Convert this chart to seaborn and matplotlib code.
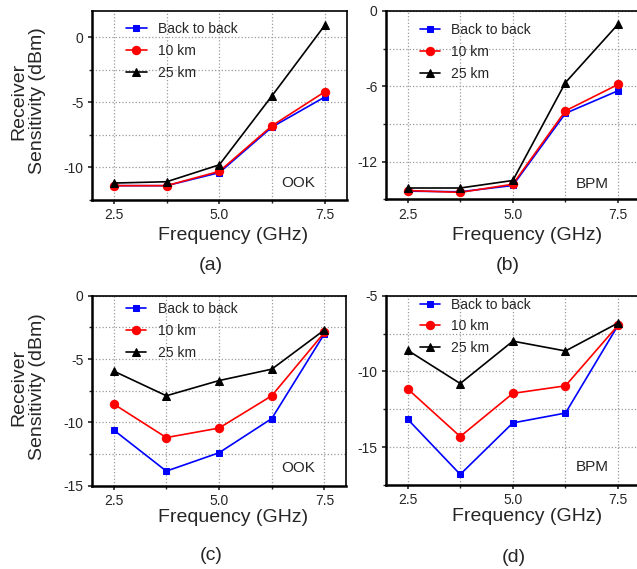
import numpy as np
import pandas as pd
import matplotlib
matplotlib.use("Agg")
import matplotlib.pyplot as plt
from matplotlib.ticker import MultipleLocator
import seaborn as sns

# frequencies (GHz) and series names
freq = [2.5, 3.75, 5.0, 6.25, 7.5]
series = ["Back to back", "10 km", "25 km"]

# (a) OOK, first set
a_b2b = [-11.4, -11.4, -10.4, -6.9, -4.6]
a_10km = [-11.4, -11.4, -10.3, -6.8, -4.2]
a_25km = [-11.2, -11.1, -9.8, -4.5, 0.9]

# (b) BPM, first set
b_b2b = [-14.35, -14.4, -13.9, -8.15, -6.35]
b_10km = [-14.3, -14.45, -13.8, -7.95, -5.85]
b_25km = [-14.1, -14.1, -13.5, -5.7, -1.05]

# (c) OOK, second set
c_b2b = [-10.6, -13.85, -12.4, -9.7, -3.0]
c_10km = [-8.55, -11.2, -10.45, -7.9, -2.9]
c_25km = [-5.95, -7.9, -6.7, -5.8, -2.7]

# (d) BPM, second set
d_b2b = [-13.15, -16.8, -13.4, -12.75, -6.95]
d_10km = [-11.15, -14.3, -11.45, -10.95, -6.95]
d_25km = [-8.6, -10.8, -8.0, -8.65, -6.8]

sns.set_style("ticks")
plt.rcParams['font.family'] = ['Liberation Sans', 'DejaVu Sans']
plt.rcParams['axes.unicode_minus'] = False

W, H = 637, 569
fig = plt.figure(figsize=(W / 100, H / 100), dpi=100)

colors = ["#0000ff", "#ff0000", "#000000"]
markers = ["s", "o", "^"]
msizes = [4.5, 6, 6]


def px_axes(left, top, right, bottom):
    return fig.add_axes([left / W, 1 - bottom / H, (right - left) / W, (bottom - top) / H])


def draw_panel(ax, vals, ylim, major, minor, mode, tag, leg_top, tag_xy, xlab_y, mode_y):
    for name, v, c, m, ms in zip(series, vals, colors, markers, msizes):
        df = pd.DataFrame({"freq": freq, "sens": v})
        sns.lineplot(data=df, x="freq", y="sens", color=c, marker=m, markersize=ms,
                     markeredgecolor=c, linewidth=1.2, label=name, ax=ax)
    ax.set_xlim(1.98, 8.02)
    ax.set_ylim(*ylim)
    ax.xaxis.set_major_locator(MultipleLocator(2.5))
    ax.xaxis.set_minor_locator(MultipleLocator(1.25))
    ax.yaxis.set_major_locator(MultipleLocator(major))
    ax.yaxis.set_minor_locator(MultipleLocator(minor))
    ax.xaxis.set_major_formatter(matplotlib.ticker.FormatStrFormatter('%.1f'))
    ax.yaxis.set_major_formatter(matplotlib.ticker.FormatStrFormatter('%g'))
    ax.grid(True, which='both', color='#9a9a9a', linestyle=':', linewidth=0.9)
    ax.tick_params(which='major', length=3, width=1.2, pad=3, labelsize=10)
    ax.tick_params(which='minor', length=2, width=1.0)
    for s in ['left', 'bottom']:
        ax.spines[s].set_linewidth(1.8)
    for s in ['top', 'right']:
        ax.spines[s].set_linewidth(1.2)
    for s in ax.spines.values():
        s.set_color('black')
    ax.set_xlabel("Frequency (GHz)", fontsize=14)
    ax.xaxis.set_label_coords(0.555, xlab_y)
    ax.set_ylabel("")
    ax.legend(loc='upper left', bbox_to_anchor=(0.133, leg_top), frameon=False,
              fontsize=10, handlelength=1.5, handletextpad=0.8, labelspacing=0.55,
              borderpad=0, borderaxespad=0)
    ax.text(0.876, mode_y, mode, transform=ax.transAxes, ha='right', va='center', fontsize=11)
    fig.text(tag_xy[0] / W, 1 - tag_xy[1] / H, tag, ha='center', va='center', fontsize=14)


ax_a = px_axes(92, 11, 346.7, 200)
ax_b = px_axes(385.7, 11, 640, 199.3)
ax_c = px_axes(91.7, 295.7, 346.4, 485.7)
ax_d = px_axes(385.7, 295.7, 640, 485)

draw_panel(ax_a, [a_b2b, a_10km, a_25km], (-12.5, 2), 5, 2.5, "OOK", "(a)", 0.94, (211, 266), -0.145, 0.09)
draw_panel(ax_b, [b_b2b, b_10km, b_25km], (-15, 0), 6, 3, "BPM", "(b)", 0.935, (508, 266), -0.145, 0.081)
draw_panel(ax_c, [c_b2b, c_10km, c_25km], (-15, 0), 5, 2.5, "OOK", "(c)", 0.965, (211, 556), -0.12, 0.092)
draw_panel(ax_d, [d_b2b, d_10km, d_25km], (-17.5, -5), 5, 2.5, "BPM", "(d)", 0.99, (514, 557), -0.12, 0.097)

fig.text(28.5 / W, 1 - 101 / H, "Receiver\nSensitivity (dBm)", rotation=90, ha='center',
         va='center', multialignment='center', fontsize=14, linespacing=1.1)
fig.text(28.5 / W, 1 - 387 / H, "Receiver\nSensitivity (dBm)", rotation=90, ha='center',
         va='center', multialignment='center', fontsize=14, linespacing=1.1)

fig.savefig("out.png", dpi=100)
